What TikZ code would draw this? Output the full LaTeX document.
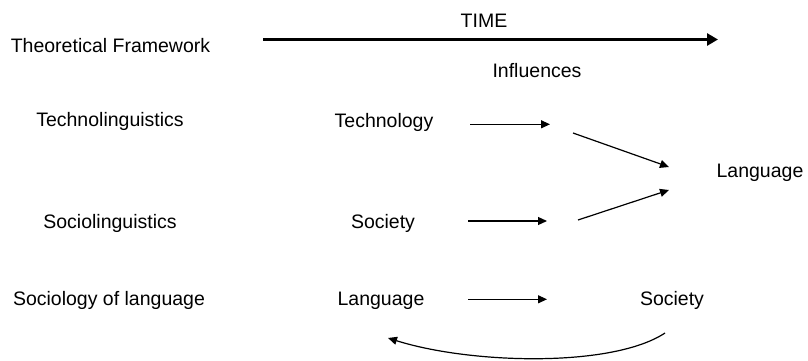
\documentclass[tikz,border=0pt]{standalone}
\usepackage{fontspec}
\setmainfont{Liberation Sans}
\usetikzlibrary{arrows.meta}
\begin{document}
\begin{tikzpicture}[x=1pt,y=1pt,
  label/.style={anchor=base,inner sep=0pt,font=\fontsize{19.5}{23}\selectfont},
  flow/.style={line width=1.2pt,-{Triangle[length=9pt,width=8pt]}},
  timeline/.style={line width=3.8pt,-{Triangle[length=11pt,width=12pt]}}]
\useasboundingbox (0,0) rectangle (808,360);

% time axis
\node[label] (time) at (484,333) {TIME};
\coordinate (tstart) at (263,320.5);
\coordinate (tend) at (718,320.5);
\draw[timeline] (tstart) -- (tend);
\node[label] (infl) at (537,283) {Influences};

% left column: frameworks
\node[label] (tf) at (110.5,307.7) {Theoretical Framework};
\node[label] (techling) at (110,233.3) {Technolinguistics};
\node[label] (socioling) at (110,132) {Sociolinguistics};
\node[label] (sociolang) at (109,55) {Sociology of language};

% middle column
\node[label] (tech) at (384,233) {Technology};
\node[label] (soc) at (383,132) {Society};
\node[label] (lang) at (381,55) {Language};

% right column
\node[label] (langR) at (760,183) {Language};
\node[label] (socR) at (672,55) {Society};

% arrow end points
\coordinate (a1s) at (470,235.7);
\coordinate (a1e) at (550,235.7);
\coordinate (a2s) at (468,139);
\coordinate (a2e) at (547,139);
\coordinate (a3s) at (468,60.7);
\coordinate (a3e) at (547,60.7);
\coordinate (d1s) at (573,227);
\coordinate (d1e) at (669,193);
\coordinate (d2s) at (578,140);
\coordinate (d2e) at (669,170);
\coordinate (cs) at (665,27);
\coordinate (ce) at (388,22);

\draw[flow] (a1s) -- (a1e);
\draw[flow] (a2s) -- (a2e);
\draw[flow] (a3s) -- (a3e);
\draw[flow] (d1s) -- (d1e);
\draw[flow] (d2s) -- (d2e);
\draw[flow] (cs) .. controls (612,-8) and (470,-4) .. (ce);
\end{tikzpicture}
\end{document}
